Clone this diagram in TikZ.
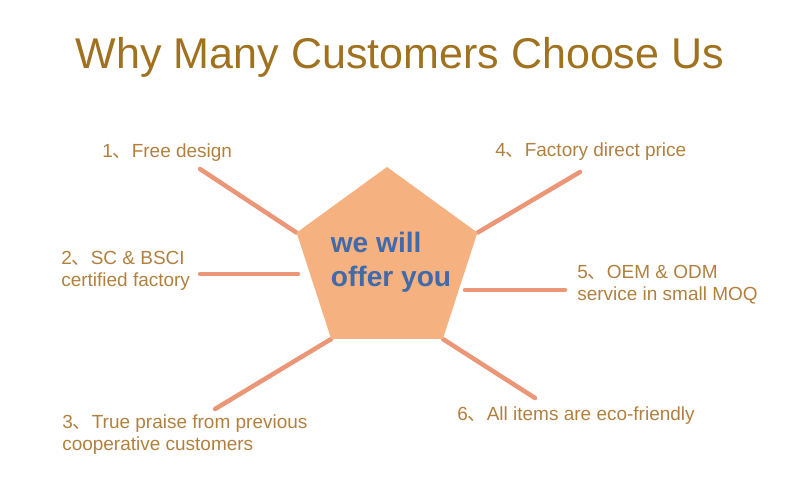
\documentclass[tikz,border=0pt]{standalone}
\usepackage{fontspec}
\setmainfont{Liberation Sans}
\newfontfamily\cjk{Noto Sans CJK SC}
\usepackage{xcolor}
\usetikzlibrary{shapes.geometric,backgrounds}
\definecolor{titlebrown}{RGB}{160,114,32}
\definecolor{labelbrown}{RGB}{178,128,62}
\definecolor{pentfill}{RGB}{245,178,128}
\definecolor{spokecol}{RGB}{236,150,120}
\definecolor{offerblue}{RGB}{64,106,170}
\newcommand{\dun}{{\cjk 、}}

\begin{document}
\begin{tikzpicture}[x=0.025cm,y=-0.025cm,
  spoke/.style={line width=3.2pt,spokecol,line cap=round},
  reason/.style={anchor=west,align=left,inner sep=0pt,text=labelbrown,
    font=\fontsize{13.5}{15.6}\selectfont}]
\useasboundingbox (0,0) rectangle (800,500);
% title
\node[text=titlebrown,font=\fontsize{30.6}{36}\selectfont] (title) at (400,57) {Why Many Customers Choose Us};
% centre pentagon
\node[regular polygon,regular polygon sides=5,minimum size=4.75cm,inner sep=0pt,fill=pentfill] (pent) at (387,262) {};
\node[align=left,text=offerblue,font=\fontsize{20}{24}\selectfont\bfseries] (offer) at (391,262) {we will\\offer you};
% reasons
\node[reason] (r1) at (102,153) {1\dun Free design};
\node[reason] (r2) at (61,271) {2\dun SC \& BSCI\\certified factory};
\node[reason] (r3) at (62,435) {3\dun True praise from previous\\cooperative customers};
\node[reason] (r4) at (495,152) {4\dun Factory direct price};
\node[reason] (r5) at (577,285) {5\dun OEM \& ODM\\service in small MOQ};
\node[reason] (r6) at (457,416) {6\dun All items are eco-friendly};
% free ends of the spokes
\coordinate (e1) at (200,169);
\coordinate (e2a) at (200,274);
\coordinate (e2b) at (298,274);
\coordinate (e3) at (215,409);
\coordinate (e4) at (580,172);
\coordinate (e5a) at (465,290);
\coordinate (e5b) at (565,290);
\coordinate (e6) at (535,398);
\begin{scope}[on background layer]
\draw[spoke] (e1) -- (pent.corner 2);
\draw[spoke] (e2a) -- (e2b);
\draw[spoke] (e3) -- (pent.corner 3);
\draw[spoke] (e4) -- (pent.corner 5);
\draw[spoke] (e5a) -- (e5b);
\draw[spoke] (e6) -- (pent.corner 4);
\end{scope}
\end{tikzpicture}
\end{document}
